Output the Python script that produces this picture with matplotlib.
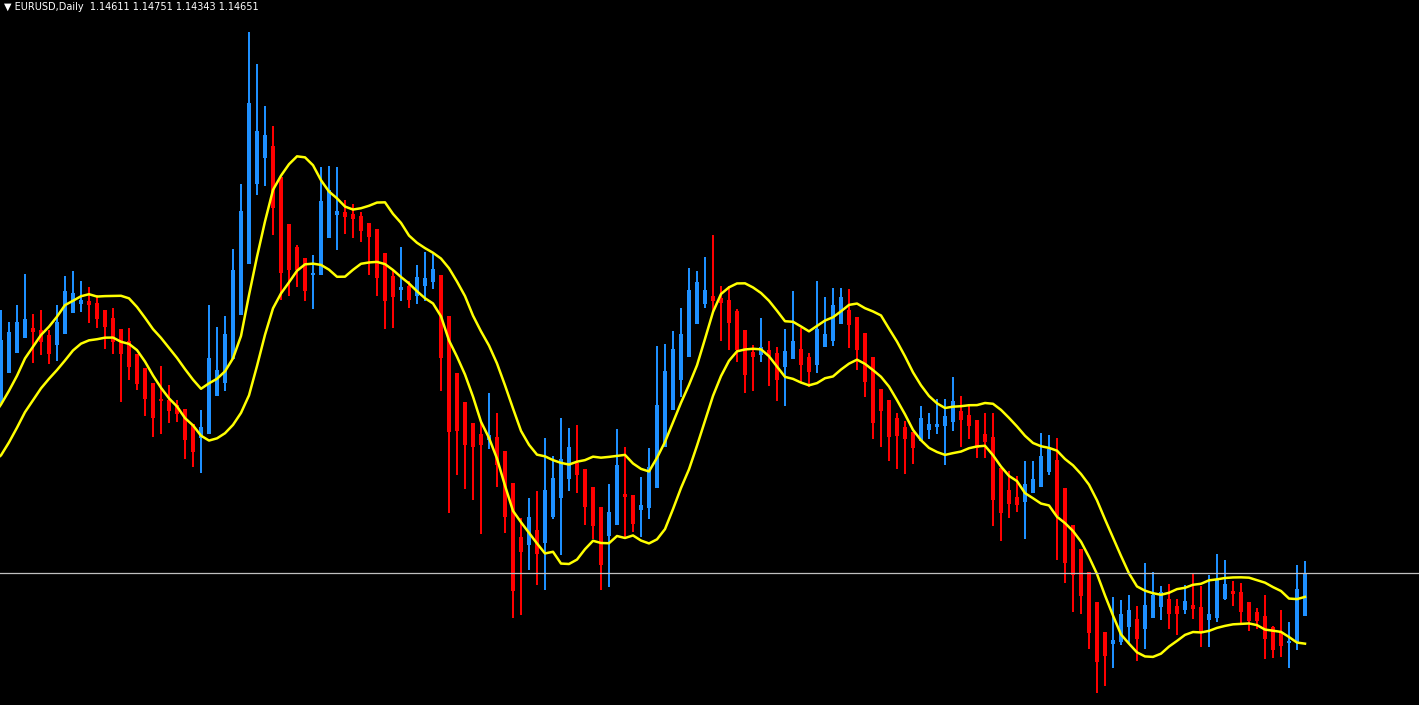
import numpy as np
import pandas as pd
import matplotlib
matplotlib.use('Agg')
import matplotlib.pyplot as plt

title = '▼ EURUSD,Daily  1.14611 1.14751 1.14343 1.14651'

# daily OHLC, first 8 bars are only warm-up for the averages (left of the visible area)
opens = [1.1558, 1.1563, 1.1570, 1.1578, 1.1586, 1.1598, 1.1608, 1.1628,
         1.1635, 1.1665, 1.1685, 1.1700, 1.1710, 1.1708, 1.1703, 1.1693, 1.1704, 1.1725,
         1.1734, 1.1737, 1.1735, 1.1728, 1.1720, 1.1709, 1.1697, 1.1684, 1.1670, 1.1655,
         1.1638, 1.1638, 1.1633, 1.1629, 1.1614, 1.1600, 1.1604, 1.1642, 1.1655, 1.1679,
         1.1723, 1.1774, 1.1854, 1.1880, 1.1892, 1.1861, 1.1814, 1.1791, 1.1780, 1.1763,
         1.1763, 1.1800, 1.1823, 1.1826, 1.1824, 1.1822, 1.1815, 1.1809, 1.1785, 1.1762,
         1.1748, 1.1752, 1.1742, 1.1752, 1.1756, 1.1763, 1.1722, 1.1665, 1.1636, 1.1615,
         1.1604, 1.1598, 1.1601, 1.1587, 1.1555, 1.1501, 1.1493, 1.1508, 1.1495, 1.1521,
         1.1540, 1.1559, 1.1575, 1.1569, 1.1551, 1.1531, 1.1502, 1.1513, 1.1544, 1.1543,
         1.1528, 1.1530, 1.1550, 1.1591, 1.1628, 1.1658, 1.1681, 1.1714, 1.1734, 1.1742,
         1.1740, 1.1738, 1.1727, 1.1708, 1.1686, 1.1683, 1.1688, 1.1685, 1.1671, 1.1679,
         1.1689, 1.1681, 1.1673, 1.1691, 1.1697, 1.1714, 1.1728, 1.1721, 1.1705, 1.1681,
         1.1649, 1.1638, 1.1620, 1.1611, 1.1606, 1.1597, 1.1608, 1.1611, 1.1612, 1.1616,
         1.1627, 1.1623, 1.1618, 1.1604, 1.1601, 1.1570, 1.1548, 1.1541, 1.1536, 1.1545,
         1.1551, 1.1566, 1.1578, 1.1550, 1.1513, 1.1489, 1.1466, 1.1436, 1.1406, 1.1394,
         1.1396, 1.1411, 1.1419, 1.1409, 1.1420, 1.1431, 1.1439, 1.1432, 1.1428, 1.1433,
         1.1431, 1.1418, 1.1420, 1.1439, 1.1447, 1.1446, 1.1436, 1.1426, 1.1422, 1.1411,
         1.1406, 1.1395, 1.1396, 1.1422]
highs = [1.1593, 1.1598, 1.1608, 1.1618, 1.1623, 1.1633, 1.1643, 1.1658,
         1.1728, 1.1716, 1.1733, 1.1764, 1.1724, 1.1728, 1.1708, 1.1733, 1.1762, 1.1767,
         1.1757, 1.1751, 1.1743, 1.1728, 1.1730, 1.1709, 1.1710, 1.1684, 1.1670, 1.1655,
         1.1672, 1.1653, 1.1638, 1.1629, 1.1614, 1.1628, 1.1733, 1.1711, 1.1722, 1.1789,
         1.1854, 1.2006, 1.1974, 1.1932, 1.1912, 1.1861, 1.1814, 1.1793, 1.1780, 1.1783,
         1.1871, 1.1872, 1.1871, 1.1838, 1.1834, 1.1826, 1.1815, 1.1809, 1.1785, 1.1767,
         1.1791, 1.1757, 1.1773, 1.1786, 1.1784, 1.1763, 1.1722, 1.1665, 1.1636, 1.1615,
         1.1616, 1.1645, 1.1625, 1.1587, 1.1555, 1.1520, 1.1540, 1.1547, 1.1600, 1.1582,
         1.1620, 1.1610, 1.1613, 1.1569, 1.1551, 1.1531, 1.1554, 1.1609, 1.1591, 1.1543,
         1.1561, 1.1590, 1.1692, 1.1694, 1.1707, 1.1730, 1.1770, 1.1767, 1.1781, 1.1803,
         1.1752, 1.1752, 1.1729, 1.1708, 1.1693, 1.1720, 1.1697, 1.1691, 1.1709, 1.1747,
         1.1710, 1.1685, 1.1757, 1.1741, 1.1750, 1.1750, 1.1749, 1.1721, 1.1705, 1.1681,
         1.1649, 1.1638, 1.1625, 1.1617, 1.1606, 1.1632, 1.1625, 1.1639, 1.1639, 1.1661,
         1.1642, 1.1634, 1.1618, 1.1625, 1.1625, 1.1570, 1.1567, 1.1562, 1.1577, 1.1577,
         1.1605, 1.1603, 1.1600, 1.1550, 1.1513, 1.1489, 1.1466, 1.1436, 1.1406, 1.1441,
         1.1438, 1.1443, 1.1432, 1.1475, 1.1466, 1.1452, 1.1454, 1.1439, 1.1453, 1.1465,
         1.1452, 1.1463, 1.1484, 1.1478, 1.1457, 1.1455, 1.1436, 1.1430, 1.1443, 1.1412,
         1.1428, 1.1416, 1.1473, 1.1477]
lows = [1.1548, 1.1553, 1.1560, 1.1568, 1.1576, 1.1588, 1.1598, 1.1618,
        1.1635, 1.1665, 1.1685, 1.1700, 1.1675, 1.1683, 1.1674, 1.1677, 1.1704, 1.1725,
        1.1726, 1.1715, 1.1710, 1.1689, 1.1684, 1.1636, 1.1658, 1.1648, 1.1622, 1.1601,
        1.1604, 1.1615, 1.1616, 1.1579, 1.1571, 1.1565, 1.1604, 1.1642, 1.1647, 1.1679,
        1.1723, 1.1774, 1.1843, 1.1852, 1.1803, 1.1738, 1.1742, 1.1751, 1.1737, 1.1729,
        1.1763, 1.1800, 1.1788, 1.1804, 1.1800, 1.1796, 1.1763, 1.1742, 1.1709, 1.1710,
        1.1737, 1.1730, 1.1734, 1.1737, 1.1749, 1.1647, 1.1525, 1.1563, 1.1549, 1.1538,
        1.1504, 1.1589, 1.1551, 1.1505, 1.1420, 1.1423, 1.1468, 1.1453, 1.1448, 1.1519,
        1.1483, 1.1547, 1.1545, 1.1513, 1.1499, 1.1448, 1.1451, 1.1513, 1.1501, 1.1506,
        1.1501, 1.1519, 1.1550, 1.1591, 1.1628, 1.1641, 1.1681, 1.1714, 1.1730, 1.1725,
        1.1697, 1.1688, 1.1676, 1.1645, 1.1647, 1.1676, 1.1652, 1.1637, 1.1632, 1.1679,
        1.1655, 1.1651, 1.1665, 1.1691, 1.1692, 1.1714, 1.1690, 1.1668, 1.1641, 1.1599,
        1.1591, 1.1577, 1.1569, 1.1564, 1.1574, 1.1597, 1.1599, 1.1604, 1.1573, 1.1607,
        1.1591, 1.1599, 1.1580, 1.1580, 1.1512, 1.1497, 1.1520, 1.1526, 1.1499, 1.1545,
        1.1551, 1.1563, 1.1478, 1.1455, 1.1426, 1.1424, 1.1389, 1.1345, 1.1352, 1.1370,
        1.1393, 1.1395, 1.1377, 1.1389, 1.1420, 1.1418, 1.1409, 1.1403, 1.1424, 1.1419,
        1.1391, 1.1391, 1.1416, 1.1438, 1.1432, 1.1413, 1.1407, 1.1409, 1.1379, 1.1380,
        1.1381, 1.1370, 1.1388, 1.1422]
closes = [1.1583, 1.1588, 1.1598, 1.1608, 1.1613, 1.1623, 1.1633, 1.1648,
          1.1698, 1.1706, 1.1716, 1.1719, 1.1706, 1.1696, 1.1684, 1.1716, 1.1747, 1.1745,
          1.1738, 1.1733, 1.1719, 1.1711, 1.1696, 1.1684, 1.1671, 1.1654, 1.1639, 1.1620,
          1.1637, 1.1627, 1.1624, 1.1598, 1.1586, 1.1611, 1.1680, 1.1668, 1.1704, 1.1768,
          1.1827, 1.1935, 1.1907, 1.1903, 1.1830, 1.1765, 1.1768, 1.1768, 1.1747, 1.1765,
          1.1837, 1.1848, 1.1827, 1.1821, 1.1819, 1.1807, 1.1801, 1.1760, 1.1737, 1.1741,
          1.1751, 1.1738, 1.1761, 1.1760, 1.1769, 1.1680, 1.1606, 1.1607, 1.1593, 1.1591,
          1.1593, 1.1603, 1.1573, 1.1521, 1.1447, 1.1486, 1.1521, 1.1484, 1.1548, 1.1560,
          1.1579, 1.1591, 1.1563, 1.1531, 1.1512, 1.1473, 1.1526, 1.1573, 1.1541, 1.1514,
          1.1533, 1.1571, 1.1633, 1.1667, 1.1689, 1.1704, 1.1748, 1.1756, 1.1748, 1.1737,
          1.1735, 1.1715, 1.1688, 1.1663, 1.1681, 1.1691, 1.1682, 1.1658, 1.1687, 1.1697,
          1.1673, 1.1666, 1.1709, 1.1704, 1.1733, 1.1741, 1.1713, 1.1688, 1.1656, 1.1615,
          1.1627, 1.1601, 1.1602, 1.1599, 1.1590, 1.1620, 1.1614, 1.1614, 1.1622, 1.1637,
          1.1618, 1.1612, 1.1590, 1.1596, 1.1538, 1.1525, 1.1534, 1.1533, 1.1554, 1.1559,
          1.1582, 1.1589, 1.1522, 1.1475, 1.1463, 1.1442, 1.1405, 1.1376, 1.1382, 1.1398,
          1.1424, 1.1428, 1.1399, 1.1433, 1.1443, 1.1446, 1.1424, 1.1424, 1.1437, 1.1429,
          1.1405, 1.1424, 1.1459, 1.1454, 1.1444, 1.1426, 1.1417, 1.1417, 1.1399, 1.1388,
          1.1392, 1.1396, 1.1449, 1.1465]
warmup = 8
ma_period = 9

df = pd.DataFrame({'open': opens, 'high': highs, 'low': lows, 'close': closes})
df['x'] = np.arange(len(df)) - warmup
df['ma_high'] = df['high'].rolling(ma_period, min_periods=1).mean()
df['ma_low'] = df['low'].rolling(ma_period, min_periods=1).mean()

fig = plt.figure(figsize=(14.19, 7.05), dpi=100, facecolor='black')
ax = fig.add_axes([0, 0, 1, 1])
ax.set_facecolor('black')

up = df['close'] >= df['open']
for mask, color in [(up, '#1e90ff'), (~up, '#ff0000')]:
    d = df[mask]
    ax.vlines(d['x'], d['low'], d['high'], color=color, lw=1.2, antialiased=False)
    body_lo = np.minimum(d['open'], d['close'])
    body_h = np.maximum((d['open'] - d['close']).abs(), 0.00015)
    ax.bar(d['x'], body_h, bottom=body_lo, width=0.62, color=color, linewidth=0)

ax.plot(df['x'], df['ma_high'], color='#ffff00', lw=1.8)
ax.plot(df['x'], df['ma_low'], color='#ffff00', lw=1.8)

ax.axhline(closes[-1], color='#c0c0c0', lw=0.9)

ax.set_xlim(-0.125, -0.125 + 1419 / 8)
ax.set_ylim(1.1333, 1.2038)
ax.axis('off')

fig.text(0.003, 0.997, title, color='white', fontsize=7, ha='left', va='top')

fig.savefig('out.png', dpi=100, facecolor='black')
